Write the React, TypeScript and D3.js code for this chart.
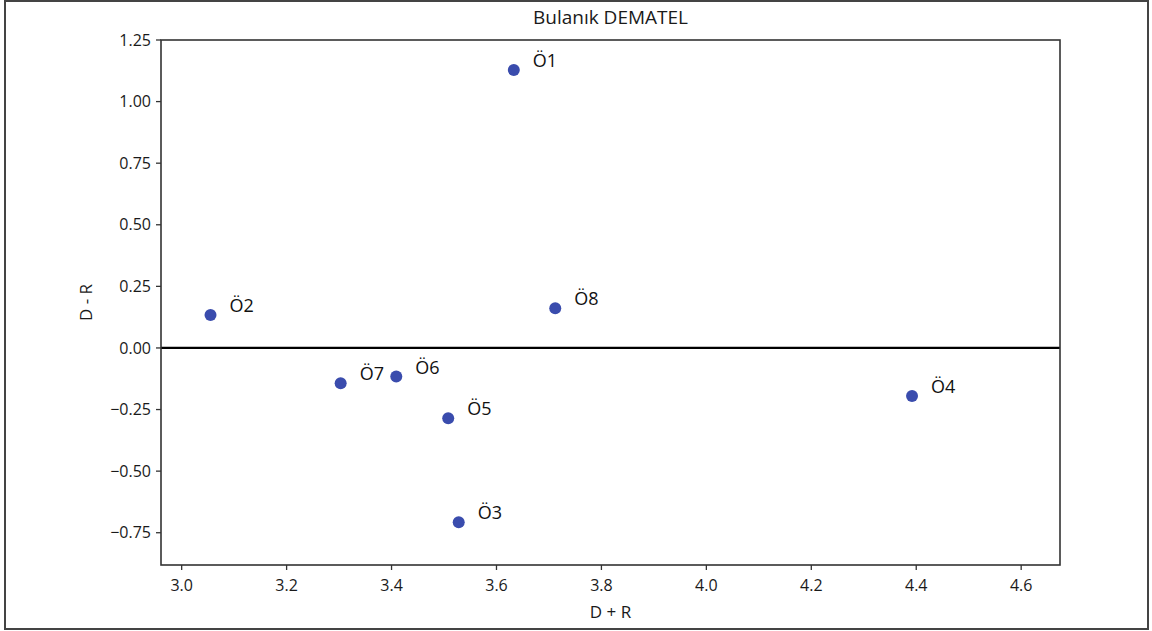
import React from 'react'
import * as d3 from 'd3'

const labels = ['Ö1', 'Ö2', 'Ö3', 'Ö4', 'Ö5', 'Ö6', 'Ö7', 'Ö8']
const dPlusR = [3.633, 3.055, 3.528, 4.392, 3.508, 3.409, 3.303, 3.712]
const dMinusR = [1.128, 0.134, -0.707, -0.195, -0.285, -0.116, -0.143, 0.161]
const xTicks = [3.0, 3.2, 3.4, 3.6, 3.8, 4.0, 4.2, 4.4, 4.6]
const yTicks = [1.25, 1.0, 0.75, 0.5, 0.25, 0.0, -0.25, -0.5, -0.75]

const W = 1152
const H = 631
const margin = { top: 40, right: 92, bottom: 66, left: 161 }
const font = '"Open Sans", "DejaVu Sans", sans-serif'

export default function App() {
  const x = d3.scaleLinear()
    .domain([2.9606, 4.674])
    .range([margin.left, W - margin.right])
  const y = d3.scaleLinear()
    .domain([-0.881, 1.25])
    .range([H - margin.bottom, margin.top])

  const fmtX = d3.format('.1f')
  const fmtY = (v: number) => d3.format('.2f')(v).replace('-', '\u2212')
  const [x0, x1] = x.range()
  const [y0, y1] = y.range()
  const axisColor = '#333'

  return (
    <svg width={W} height={H} style={{ position: 'absolute', left: 0, top: 0, background: '#fff' }}>
      <rect x={5} y={1} width={1143} height={628} fill="#fff" stroke="#444" strokeWidth={2} />
      <text x={(x0 + x1) / 2} y={24} textAnchor="middle" fontFamily={font} fontSize={19} fill="#1a1a1a">
        Bulanık DEMATEL
      </text>

      {/* zero line */}
      <line x1={x0} x2={x1} y1={y(0)} y2={y(0)} stroke="#000" strokeWidth={2.2} />

      {/* points */}
      {labels.map((l, i) => (
        <g key={l}>
          <circle cx={x(dPlusR[i])} cy={y(dMinusR[i])} r={6} fill="#3a4cad" />
          <text x={x(dPlusR[i]) + 19} y={y(dMinusR[i]) - 3} fontFamily={font} fontSize={18} fill="#111">{l}</text>
        </g>
      ))}

      {/* frame */}
      <rect x={x0} y={y1} width={x1 - x0} height={y0 - y1} fill="none" stroke={axisColor} strokeWidth={1.6} />

      {/* x axis */}
      {xTicks.map(t => (
        <g key={t} transform={`translate(${x(t)},${y0})`}>
          <line y2={5} stroke={axisColor} strokeWidth={1.3} />
          <text y={26} textAnchor="middle" fontFamily={font} fontSize={16} fill="#1a1a1a">{fmtX(t)}</text>
        </g>
      ))}
      <text x={(x0 + x1) / 2} y={618} textAnchor="middle" fontFamily={font} fontSize={17} fill="#1a1a1a">D + R</text>

      {/* y axis */}
      {yTicks.map(t => (
        <g key={t} transform={`translate(${x0},${y(t)})`}>
          <line x2={-5} stroke={axisColor} strokeWidth={1.3} />
          <text x={-10} dy="0.35em" textAnchor="end" fontFamily={font} fontSize={16} fill="#1a1a1a">{fmtY(t)}</text>
        </g>
      ))}
      <text transform={`translate(92,${(y0 + y1) / 2}) rotate(-90)`} textAnchor="middle" fontFamily={font} fontSize={17} fill="#1a1a1a">D - R</text>
    </svg>
  )
}
